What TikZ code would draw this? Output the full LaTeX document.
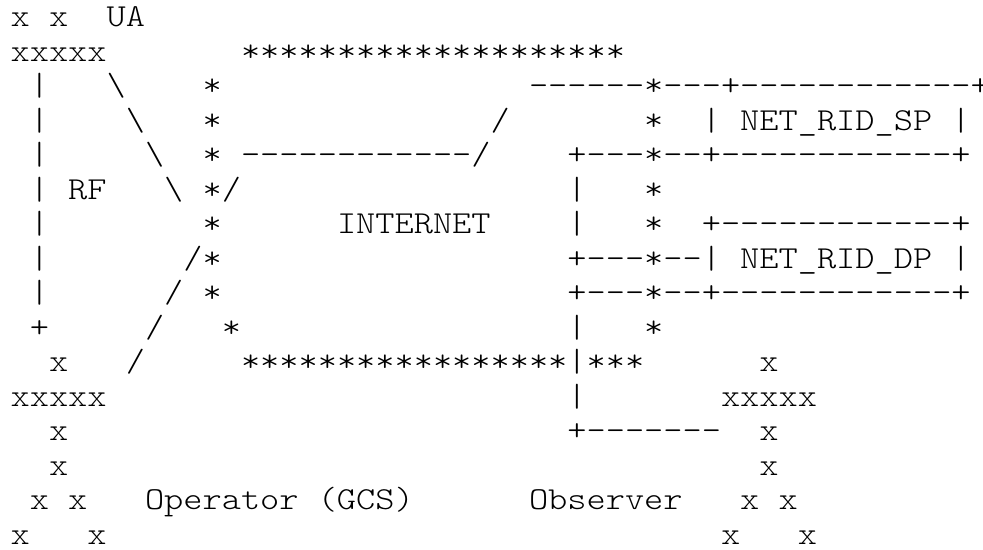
\documentclass[tikz,border=0pt]{standalone}
\usepackage{fontspec}
\setmonofont{lmmonolt10-regular}[Extension=.otf,FakeStretch=1.143]

\begin{document}
\begin{tikzpicture}[x=19.2bp,y=-34.5bp,
    ch/.style={font=\fontsize{32bp}{34.5bp}\selectfont\ttfamily,inner sep=0pt,anchor=base west}]
    \useasboundingbox (-0.5417,-0.7739) rectangle (50.656,15.168);
    \node[ch] (uax1) at (0,0) {x};
    \node[ch] (uax2) at (2,0) {x};
    \node[ch] (ua) at (5,0) {UA};
    \node[ch] (uabody) at (0,1) {xxxxx};
    \node[ch] (nettop) at (12,1) {********************};
    \foreach \r in {2,...,8}
        \node[ch] (rf\r) at (1,\r) {|};
    \node[ch] (lnka) at (5,2) {\textbackslash};
    \node[ch] (lnkb) at (6,3) {\textbackslash};
    \node[ch] (lnkc) at (7,4) {\textbackslash};
    \node[ch] (lnkd) at (8,5) {\textbackslash};
    \node[ch] (neta) at (10,2) {*};
    \node[ch] (netb) at (10,3) {*};
    \node[ch] (netc) at (10,4) {*};
    \node[ch] (netd) at (10,5) {*/};
    \node[ch] (nete) at (10,6) {*};
    \node[ch] (netf) at (9,7) {/*};
    \node[ch] (netg) at (10,8) {*};
    \node[ch] (neth) at (11,9) {*};
    \node[ch] (netbot) at (12,10) {*****************|***};
    \node[ch] (sptop) at (27,2) {------*---+------------+};
    \node[ch] (slash) at (25,3) {/};
    \node[ch] (spa) at (33,3) {*};
    \node[ch] (spl) at (36,3) {|};
    \node[ch] (sp) at (38,3) {NET\_RID\_SP};
    \node[ch] (spr) at (49,3) {|};
    \node[ch] (gcslink) at (12,4) {------------/};
    \node[ch] (spbot) at (29,4) {+---*--+------------+};
    \node[ch] (rf) at (3,5) {RF};
    \node[ch] (oba) at (29,5) {|};
    \node[ch] (spb) at (33,5) {*};
    \node[ch] (internet) at (17,6) {INTERNET};
    \node[ch] (obb) at (29,6) {|};
    \node[ch] (spc) at (33,6) {*};
    \node[ch] (dptop) at (36,6) {+------------+};
    \node[ch] (dpl) at (29,7) {+---*--|};
    \node[ch] (dp) at (38,7) {NET\_RID\_DP};
    \node[ch] (dpr) at (49,7) {|};
    \node[ch] (lnke) at (8,8) {/};
    \node[ch] (dpbot) at (29,8) {+---*--+------------+};
    \node[ch] (rfend) at (1,9) {+};
    \node[ch] (lnkf) at (7,9) {/};
    \node[ch] (obc) at (29,9) {|};
    \node[ch] (dpa) at (33,9) {*};
    \node[ch] (gcsx1) at (2,10) {x};
    \node[ch] (lnkg) at (6,10) {/};
    \node[ch] (obsx1) at (39,10) {x};
    \node[ch] (gcsbody) at (0,11) {xxxxx};
    \node[ch] (obd) at (29,11) {|};
    \node[ch] (obsbody) at (37,11) {xxxxx};
    \node[ch] (gcsx2) at (2,12) {x};
    \node[ch] (obe) at (29,12) {+-------};
    \node[ch] (obsx2) at (39,12) {x};
    \node[ch] (gcsx3) at (2,13) {x};
    \node[ch] (obsx3) at (39,13) {x};
    \node[ch] (gcsx4) at (1,14) {x};
    \node[ch] (gcsx5) at (3,14) {x};
    \node[ch] (gcs) at (7,14) {Operator (GCS)};
    \node[ch] (obs) at (27,14) {Observer};
    \node[ch] (obsx4) at (38,14) {x};
    \node[ch] (obsx5) at (40,14) {x};
    \node[ch] (gcsx6) at (0,15) {x};
    \node[ch] (gcsx7) at (4,15) {x};
    \node[ch] (obsx6) at (37,15) {x};
    \node[ch] (obsx7) at (41,15) {x};
\end{tikzpicture}
\end{document}
